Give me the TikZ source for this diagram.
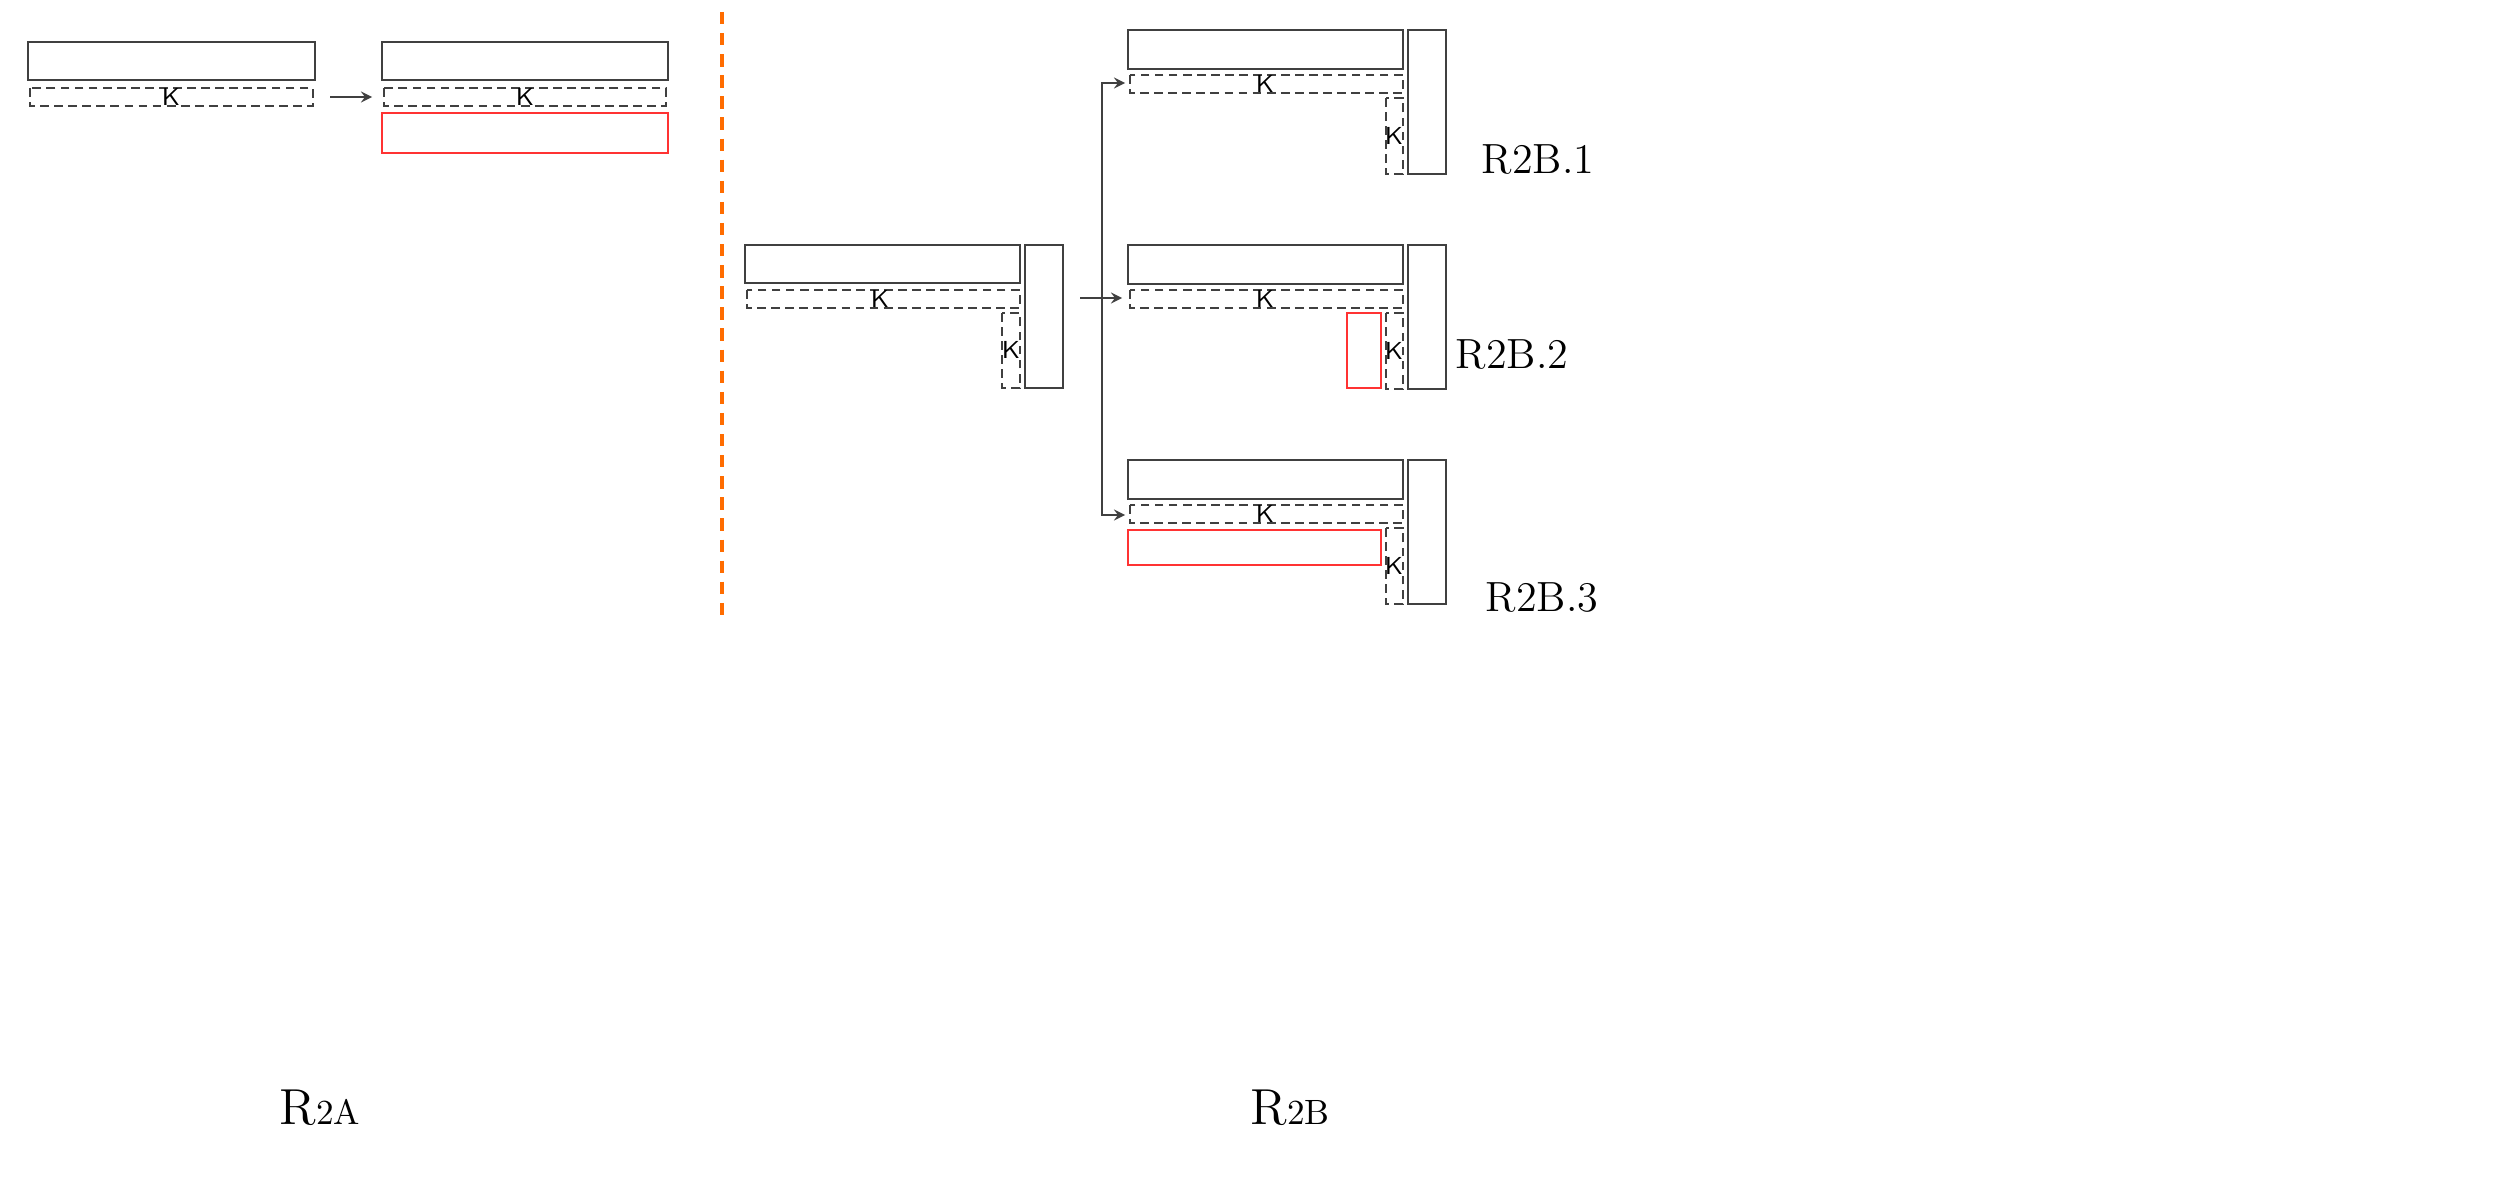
\documentclass[tikz,border=0pt]{standalone}
\begin{document}
\begin{tikzpicture}[x=0.01cm,y=-0.01cm,
  solidbox/.style={draw=black!75,line width=0.45pt},
  kbox/.style={draw=black!75,dash pattern=on 2.5pt off 1.5pt,line width=0.45pt},
  redbox/.style={draw=red!80,line width=0.45pt},
  klab/.style={font=\sffamily\scriptsize,inner sep=0pt},
  arr/.style={->,>=stealth,draw=black!75,line width=0.4pt},
  lab/.style={font=\large}]
\useasboundingbox (0,0) rectangle (2495,1197);
% left
\draw[solidbox] (28,42) rectangle (315,80);
\draw[kbox] (30,88) rectangle (313,106); \node[klab] (k1) at (171,97) {K};
\draw[solidbox] (382,42) rectangle (668,80);
\draw[kbox] (384,88) rectangle (666,106); \node[klab] (k2) at (525,97) {K};
\draw[redbox] (382,113) rectangle (668,153);
\coordinate (a1) at (330,97); \coordinate (a2) at (372,97);
\draw[arr] (a1) -- (a2);
% separator
\coordinate (s1) at (722,12); \coordinate (s2) at (722,615);
\draw[draw=orange!85!red,line width=1.2pt,dash pattern=on 3.5pt off 2.5pt] (s1) -- (s2);
% middle
\draw[solidbox] (745,245) rectangle (1020,283);
\draw[kbox] (747,290) rectangle (1020,308); \node[klab] (k3) at (880,299) {K};
\draw[kbox] (1002,313) rectangle (1020,388); \node[klab] (k4) at (1011,350) {K};
\draw[solidbox] (1025,245) rectangle (1063,388);
\coordinate (b1) at (1080,298); \coordinate (b2) at (1122,298);
\draw[arr] (b1) -- (b2);
\coordinate (v1) at (1102,83); \coordinate (v2) at (1102,515);
\coordinate (t1) at (1125,83); \coordinate (t2) at (1125,515);
\draw[arr] (v2) -- (v1) -- (t1);
\draw[arr] (v1) -- (v2) -- (t2);
% groups
\foreach \y/\lbl/\lx/\ly in {30/R2B.1/1538/160, 245/R2B.2/1512/355, 460/R2B.3/1542/598}{
  \draw[solidbox] (1128,\y) rectangle (1403,\y+39);
  \draw[kbox] (1130,\y+45) rectangle (1403,\y+63);
  \node[klab] at (1265,\y+54) {K};
  \draw[kbox] (1386,\y+68) rectangle (1403,\y+144);
  \node[klab] at (1394,\y+106) {K};
  \draw[solidbox] (1408,\y) rectangle (1446,\y+144);
  \node[lab] at (\lx,\ly) {\lbl};
}
\draw[redbox] (1347,313) rectangle (1381,388);
\draw[redbox] (1128,530) rectangle (1381,565);
\node (r2a) at (320,1108) {\Large R\normalsize 2A};
\node (r2b) at (1290,1108) {\Large R\normalsize 2B};
\end{tikzpicture}
\end{document}
